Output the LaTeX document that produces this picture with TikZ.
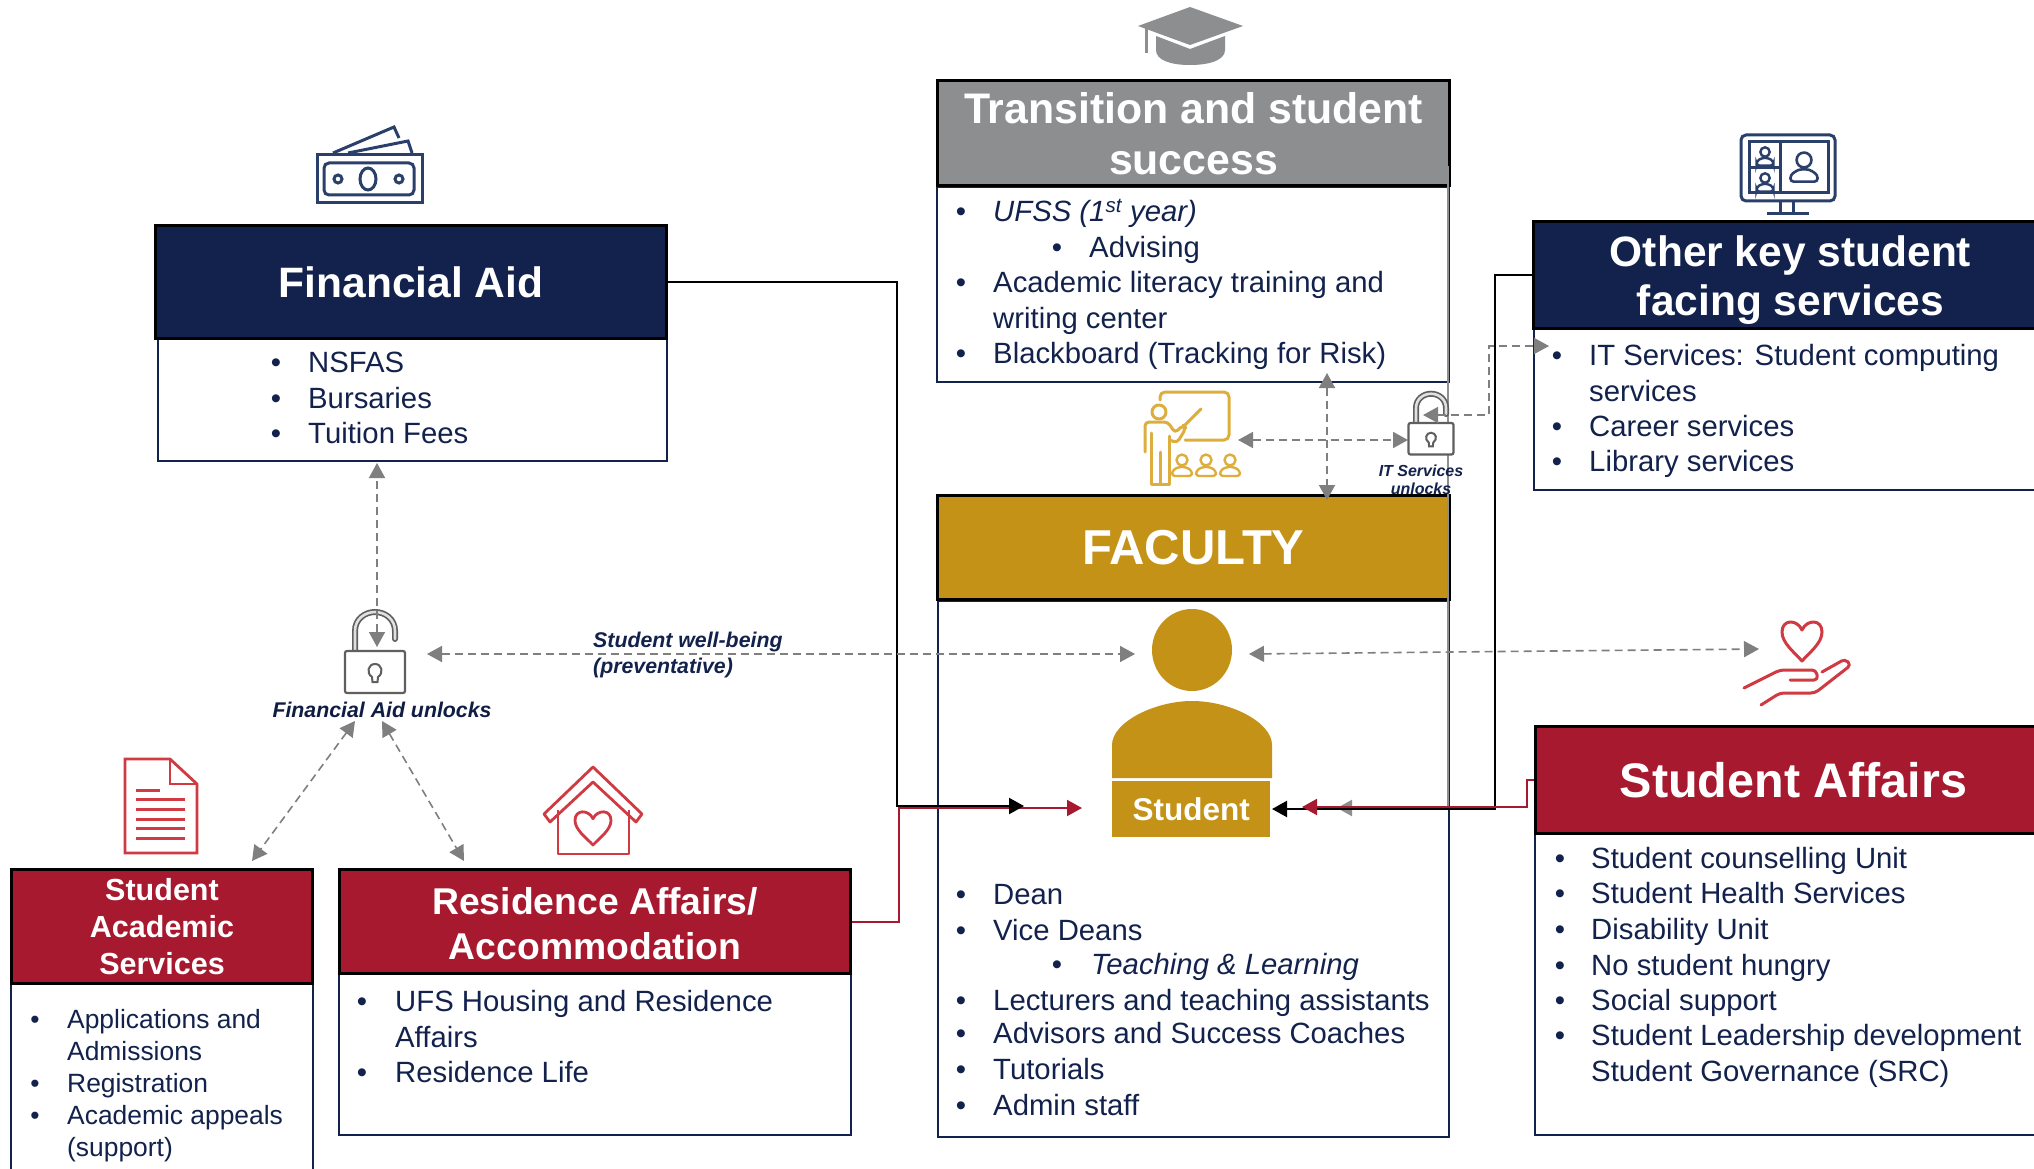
\documentclass[tikz,border=0pt]{standalone}
\usepackage{fontspec}
\setmainfont{Liberation Sans}
\usetikzlibrary{arrows.meta}
\definecolor{navy}{HTML}{12224D}
\definecolor{crim}{HTML}{A6192E}
\definecolor{gold}{HTML}{C49216}
\definecolor{gry}{HTML}{8C8E90}
\definecolor{agry}{HTML}{7F7F7F}
\definecolor{iconnavy}{HTML}{2B3F6B}
\definecolor{iconred}{HTML}{D03A42}
\definecolor{icongold}{HTML}{DDAE3E}
\definecolor{lockc}{HTML}{5F5F5F}
\newcounter{ln}
\newcommand\bul[4]{\stepcounter{ln}\node[lst,anchor=mid] (b\theln) at (#1,#3) {•};\node[lst,anchor=mid west] (t\theln) at (#2,#3) {#4};}
\newcommand\cnt[3]{\stepcounter{ln}\node[lst,anchor=mid west] (t\theln) at (#1,#2) {#3};}
\tikzset{
 hdr/.style={draw=black,line width=3pt,text=white,anchor=north west,inner sep=0pt,align=center},
 bodyb/.style={draw=navy,line width=2pt,fill=white,anchor=north west,inner sep=0pt},
 lst/.style={text=navy,inner sep=0pt,yshift=-5.5pt,font=\fontsize{29.3}{35}\selectfont},
 note/.style={text=navy,inner sep=0pt,font=\fontsize{21.3}{26}\selectfont\bfseries\itshape},
 dsh/.style={draw=agry,line width=1.6pt,dash pattern=on 8pt off 5pt,>={Triangle[length=15pt,width=16pt]}},
 blk/.style={draw=black,line width=2.2pt,-{Triangle[length=15pt,width=16pt]}},
 redl/.style={draw=crim,line width=2pt,-{Triangle[length=15pt,width=16pt]}},
 gryl/.style={draw=gry,line width=2.2pt,-{Triangle[length=15pt,width=16pt]}},
 peep/.pic={
  \draw (0,0) circle (5.5);
  \draw[rounded corners=3pt] (-10,16) -- (-10,11) -- (-4,7) -- (4,7) -- (10,11) -- (10,16) -- cycle;
 },
 lockp/.pic={
  \draw[lockc,line width=6pt,line cap=round] (-20,2) -- (-20,-20) .. controls (-20,-32) and (-10,-39) .. (0,-39) .. controls (10,-39) and (20,-32) .. (20,-20) -- (20,-12);
  \draw[black!12,line width=2.6pt,line cap=round] (-20,2) -- (-20,-20) .. controls (-20,-32) and (-10,-39) .. (0,-39) .. controls (10,-39) and (20,-32) .. (20,-20) -- (20,-12);
  \draw[lockc,line width=2.2pt,fill=white,rounded corners=2pt] (-30,0) rectangle (30,42);
  \draw[lockc,line width=2pt] (-3,26) .. controls (-9,22) and (-7,13) .. (0,13) .. controls (7,13) and (9,22) .. (3,26) -- (2.5,31) -- (-2.5,31) -- cycle;
 },
 heartp/.pic={
  \draw (0,-.55) .. controls (-.25,-1.1) and (-1,-1.1) .. (-1,-.45) .. controls (-1,.1) and (-.4,.55) .. (0,1) .. controls (.4,.55) and (1,.1) .. (1,-.45) .. controls (1,-1.1) and (.25,-1.1) .. (0,-.55) -- cycle;
 }
}
\begin{document}
\begin{tikzpicture}[x=1pt,y=-1pt]
\clip (0,0) rectangle (2034,1169);
\fill[white] (0,0) rectangle (2034,1169);

% bodies
\node[bodyb,minimum width=509pt,minimum height=123pt] (fab) at (157,337) {};
\node[bodyb,minimum width=512pt,minimum height=195pt] (trb) at (936,186) {};
\node[bodyb,minimum width=511pt,minimum height=535.5pt] (fcb) at (937,600) {};
\node[bodyb,minimum width=517pt,minimum height=162pt] (otb) at (1533,327) {};
\node[bodyb,minimum width=516pt,minimum height=302pt] (sab) at (1534,832) {};
\node[bodyb,minimum width=512pt,minimum height=162pt] (reb) at (338,972) {};
\node[bodyb,minimum width=302pt,minimum height=230pt] (scb) at (10,982) {};

% headers
\node[hdr,fill=navy,minimum width=511pt,minimum height=113pt,font=\fontsize{42.5}{52}\selectfont\bfseries] (fa) at (154,224) {Financial Aid};
\node[hdr,fill=gry,minimum width=512pt,minimum height=105pt,font=\fontsize{42.8}{50.5}\selectfont\bfseries] (tr) at (936,79) {\rule{0pt}{32pt}Transition and student\\success};
\node[hdr,fill=gold,minimum width=512pt,minimum height=104pt,font=\fontsize{49}{52}\selectfont\bfseries] (fc) at (936,494) {FACULTY};
\node[hdr,fill=navy,minimum width=514pt,minimum height=107pt,font=\fontsize{42.5}{49}\selectfont\bfseries] (ot) at (1532,220) {\rule{0pt}{41pt}Other key student\\facing services};
\node[hdr,fill=crim,minimum width=516pt,minimum height=107pt,font=\fontsize{48.5}{52}\selectfont\bfseries] (sa) at (1534,725) {Student Affairs};
\node[hdr,fill=crim,minimum width=511pt,minimum height=104pt,font=\fontsize{37.3}{45}\selectfont\bfseries] (re) at (338,868) {\rule{0pt}{30.5pt}Residence Affairs/\\Accommodation};
\node[hdr,fill=crim,minimum width=301pt,minimum height=114pt,font=\fontsize{30.5}{37}\selectfont\bfseries] (sc) at (10,868) {Student\\Academic\\Services};

% lists
\bul{276}{308}{364.5}{NSFAS}
\bul{276}{308}{400}{Bursaries}
\bul{276}{308}{435}{Tuition Fees}

\bul{961}{993}{213}{\itshape UFSS (1\textsuperscript{st} year)}
\bul{1057}{1089}{249}{Advising}
\bul{961}{993}{284}{Academic literacy training and}
\cnt{993}{320}{writing center}
\bul{961}{993}{355}{Blackboard (Tracking for Risk)}

\bul{1557}{1589}{357}{IT Services: Student computing}
\cnt{1589}{393}{services}
\bul{1557}{1589}{428}{Career services}
\bul{1557}{1589}{463}{Library services}

\bul{961}{993}{896}{Dean}
\bul{961}{993}{932}{Vice Deans}
\bul{1057}{1091}{966}{\itshape Teaching \& Learning}
\bul{961}{993}{1002}{Lecturers and teaching assistants}
\bul{961}{993}{1035}{Advisors and Success Coaches}
\bul{961}{993}{1071}{Tutorials}
\bul{961}{993}{1107}{Admin staff}

\bul{1560}{1591}{860}{Student counselling Unit}
\bul{1560}{1591}{895}{Student Health Services}
\bul{1560}{1591}{931}{Disability Unit}
\bul{1560}{1591}{967}{No student hungry}
\bul{1560}{1591}{1002}{Social support}
\bul{1560}{1591}{1037}{Student Leadership development}
\cnt{1591}{1073}{Student Governance (SRC)}

\bul{362}{395}{1003}{UFS Housing and Residence}
\cnt{395}{1039}{Affairs}
\bul{362}{395}{1074}{Residence Life}

\begin{scope}[lst/.style={text=navy,inner sep=0pt,yshift=-5.5pt,font=\fontsize{26.4}{31}\selectfont}]
\bul{35}{67}{1020}{Applications and}
\cnt{67}{1052}{Admissions}
\bul{35}{67}{1084}{Registration}
\bul{35}{67}{1116}{Academic appeals}
\cnt{67}{1148}{(support)}
\end{scope}

% student figure
\fill[gold] (1192,650) ellipse [x radius=40,y radius=41];
\fill[gold] (1112,778) -- (1112,745) .. controls (1112,722) and (1155,701) .. (1192,701) .. controls (1230,701) and (1272,722) .. (1272,745) -- (1272,778) -- cycle;
\node[fill=gold,text=white,anchor=north west,inner sep=0pt,minimum width=158pt,minimum height=56pt,font=\fontsize{31.5}{36}\selectfont\bfseries] (stu) at (1112,781) {Student};

% coordinates for connectors
\coordinate (faB) at (897,806);
\coordinate (faT) at (1024,806);
\coordinate (reB) at (899,808);
\coordinate (reT) at (1082,808);
\coordinate (otB) at (1495,809);
\coordinate (otT) at (1272,809);
\coordinate (saB) at (1527,807);
\coordinate (saT) at (1302,807);
\coordinate (trS) at (1448,166);
\coordinate (trB) at (1448,808);
\coordinate (trT) at (1337,808);

% gray + solid connectors
\draw[gryl] (trS) -- (trB) -- (trT);
\draw[redl] (re.east) -| (reB) -- (reT);
\draw[blk] (fa.east) -| (faB) -- (faT);
\draw[blk] (ot.west) -| (otB) -- (otT);
\draw[redl] (sa.west) -| (saB) -- (saT);

% icons: money
\begin{scope}[iconnavy,line width=3pt]
\draw (317,155) rectangle (422,203);
\draw[rounded corners=5pt] (324,163) rectangle (414,195);
\draw (368,179) ellipse [x radius=8,y radius=11];
\draw (338,179) circle (4);
\draw (399,179) circle (4);
\draw (333,153) -- (394,127) -- (399,138);
\draw (348,153) -- (408,141) -- (412,153);
\end{scope}

% icon: cap
\begin{scope}[gry]
\fill (1138,26) -- (1190,7) -- (1243,26) -- (1190,45) -- cycle;
\fill (1156,36) -- (1190,49) -- (1225,36) -- (1225,50) .. controls (1225,60) and (1210,65) .. (1190,65) .. controls (1170,65) and (1156,60) .. (1156,50) -- cycle;
\draw[line width=3pt] (1146,28) -- (1146,53);
\end{scope}

% icon: monitor
\begin{scope}[iconnavy,line width=3pt]
\draw[rounded corners=5pt] (1741,135) rectangle (1835,201);
\draw (1749,142) rectangle (1828,193);
\draw (1780,142) -- (1780,193);
\draw (1749,168) -- (1780,168);
\draw (1780,201) -- (1780,214);
\draw (1793,201) -- (1793,214);
\draw (1767,214) -- (1809,214);
\pic[scale=.85,line width=2.4pt] at (1765,152) {peep};
\pic[scale=.85,line width=2.4pt] at (1765,178) {peep};
\pic[scale=1.35,line width=2.6pt] at (1804,160) {peep};
\end{scope}

% icon: teacher
\begin{scope}[icongold,line width=3pt,line cap=round,line join=round]
\draw[rounded corners=5pt] (1160,400) -- (1160,392) -- (1229,392) -- (1229,440) -- (1185,440);
\draw (1159,412) circle (7);
\draw (1201,409) -- (1185,425);
\draw[rounded corners=4pt] (1145,452) -- (1145,422) -- (1168,422) -- (1175,433) -- (1183,425) -- (1186,428) -- (1177,443) -- (1170,440);
\draw (1169,436) -- (1169,484) -- (1151,484) -- (1151,433);
\draw (1160,452) -- (1160,484);
\pic[line width=2.4pt] at (1182,460) {peep};
\pic[line width=2.4pt] at (1206,460) {peep};
\pic[line width=2.4pt] at (1230,460) {peep};
\end{scope}

% icon: document
\begin{scope}[iconred,line width=2.8pt]
\draw (125,759) -- (170,759) -- (197,784) -- (197,853) -- (125,853) -- cycle;
\draw (170,759) -- (170,784) -- (197,784);
\draw[line width=3pt] (136,790) -- (160,790);
\draw[line width=3pt] (136,799) -- (185,799);
\draw[line width=3pt] (136,809) -- (185,809);
\draw[line width=3pt] (136,819) -- (185,819);
\draw[line width=3pt] (136,828) -- (185,828);
\draw[line width=3pt] (136,838) -- (185,838);
\end{scope}

% icon: house
\begin{scope}[iconred,line width=2.8pt,line join=round]
\draw (544,814) -- (593,767) -- (642,814) -- (636,822) -- (593,782) -- (550,822) -- cycle;
\draw (558,810) -- (558,854) -- (629,854) -- (629,810);
\pic[xscale=18,yscale=17,line width=2.8pt] at (593,828) {heartp};
\end{scope}

% icon: heart in hand
\begin{scope}[iconred,line width=3pt,line join=round,line cap=round]
\pic[xscale=20,yscale=20,line width=3pt] at (1802,641) {heartp};
\draw[rounded corners=4pt] (1744,688) -- (1780,670) -- (1816,670) -- (1818,680) -- (1790,680);
\draw[rounded corners=4pt] (1822,672) -- (1845,659) -- (1851,665) -- (1815,693) -- (1780,693) -- (1761,705);
\end{scope}

% locks
\pic at (375,651) {lockp};
\pic[scale=.75] at (1431,423) {lockp};

% notes
\node[note,text=navy!85!black,anchor=center] (falbl) at (382,710) {Financial Aid unlocks};
\node[note,anchor=west,align=left] (wb) at (593,655) {Student well-being\\(preventative)};
\node[note,anchor=center,align=center,font=\fontsize{16}{18}\selectfont\bfseries\itshape] (itlbl) at (1421,480) {IT Services\\unlocks};

% dashed
\coordinate (fT) at (377,463);
\coordinate (fL) at (377,647);
\coordinate (wL) at (427,654);
\coordinate (wR) at (1135,654);
\coordinate (hL) at (1249,654);
\coordinate (hR) at (1759,649);
\coordinate (d1a) at (355,721);
\coordinate (d1b) at (252,861);
\coordinate (d2a) at (382,721);
\coordinate (d2b) at (464,861);
\coordinate (vT) at (1327,373);
\coordinate (vB) at (1327,500);
\coordinate (hzL) at (1238,440);
\coordinate (hzR) at (1408,440);
\coordinate (itIn) at (1423,415);
\coordinate (itB) at (1489,346);
\coordinate (otIn) at (1549,346);
\draw[dsh,<->] (fL) -- (fT);
\draw[dsh,<->] (wL) -- (wR);
\draw[dsh,<->] (hL) -- (hR);
\draw[dsh,<->] (d1a) -- (d1b);
\draw[dsh,<->] (d2a) -- (d2b);
\draw[dsh,<->] (vT) -- (vB);
\draw[dsh,<->] (hzL) -- (hzR);
\draw[dsh,<->] (itIn) -| (itB) -- (otIn);
\end{tikzpicture}
\end{document}
